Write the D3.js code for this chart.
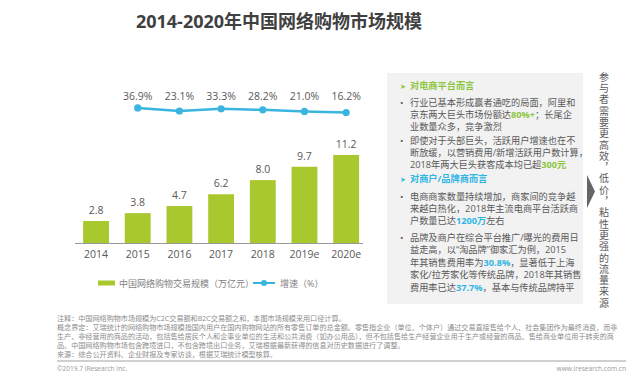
<!DOCTYPE html>
<html>
<head>
<meta charset="utf-8">
<script src="https://cdn.jsdelivr.net/npm/d3@7"></script>
<style>
  body { margin: 0; background: #fff; }
  svg { display: block; font-family: "Open Sans", "Noto Sans CJK SC", sans-serif; }
</style>
</head>
<body>
<div id="chart"></div>
<script>
// data
var years = ["2014", "2015", "2016", "2017", "2018", "2019e", "2020e"];
var scale = [2.8, 3.8, 4.7, 6.2, 8.0, 9.7, 11.2];
var growthYears = ["2015", "2016", "2017", "2018", "2019e", "2020e"];
var growth = [36.9, 23.1, 33.3, 28.2, 21.0, 16.2];
var legendLabels = ["中国网络购物交易规模（万亿元）", "增速（%）"];

var green = "#a8c82e", blue = "#3ab5e0", txt = "#595959";

var W = 640, H = 376;
var svg = d3.select("#chart").append("svg")
    .attr("width", W)
    .attr("height", H);

// title
svg.append("text")
    .attr("x", 279).attr("y", 28)
    .attr("text-anchor", "middle")
    .style("font-size", "18px").style("font-weight", "bold")
    .style("fill", "#404040")
    .text("2014-2020年中国网络购物市场规模");

// scales
var x = d3.scaleBand()
    .domain(years)
    .range([75.2, 367])
    .paddingInner(0.38)
    .paddingOuter(0.19);

var baseline = 243;
var y = d3.scaleLinear()
    .domain([0, 12])
    .range([baseline, baseline - 12 * 7.86]);

var yg = d3.scaleLinear()
    .domain([0, 40])
    .range([116, 107.3]);

// bars
svg.append("g")
  .selectAll("rect")
  .data(scale)
  .enter()
  .append("rect")
    .attr("x", function (d, i) { return x(years[i]); })
    .attr("y", function (d) { return y(d); })
    .attr("width", x.bandwidth())
    .attr("height", function (d) { return baseline - y(d); })
    .style("fill", green);

svg.append("g")
  .selectAll("text")
  .data(scale)
  .enter()
  .append("text")
    .attr("x", function (d, i) { return x(years[i]) + x.bandwidth() / 2; })
    .attr("y", function (d) { return y(d) - 7; })
    .attr("text-anchor", "middle")
    .style("font-size", "10.5px").style("fill", txt)
    .text(function (d) { return d.toFixed(1); });

// x axis
var xAxis = svg.append("g")
    .attr("transform", "translate(0," + baseline + ")")
    .call(d3.axisBottom(x).tickSize(0).tickPadding(8));
xAxis.select(".domain").attr("stroke", "#999").attr("stroke-width", 1.2)
    .attr("d", "M75,0.5H363");
xAxis.selectAll("text")
    .style("font-size", "10.5px").style("fill", txt)
    .style("font-family", "\"Open Sans\", sans-serif");

// growth line
var line = d3.line()
    .x(function (d, i) { return x(growthYears[i]) + x.bandwidth() / 2; })
    .y(function (d) { return yg(d); });

svg.append("path")
    .datum(growth)
    .attr("d", line)
    .attr("fill", "none")
    .attr("stroke", blue)
    .attr("stroke-width", 2.5);

svg.append("g")
  .selectAll("circle")
  .data(growth)
  .enter()
  .append("circle")
    .attr("cx", function (d, i) { return x(growthYears[i]) + x.bandwidth() / 2; })
    .attr("cy", function (d) { return yg(d); })
    .attr("r", 3.6)
    .style("fill", blue);

svg.append("g")
  .selectAll("text")
  .data(growth)
  .enter()
  .append("text")
    .attr("x", function (d, i) { return x(growthYears[i]) + x.bandwidth() / 2; })
    .attr("y", 100)
    .attr("text-anchor", "middle")
    .style("font-size", "10.5px").style("fill", txt)
    .text(function (d) { return d.toFixed(1) + "%"; });

// legend
var lg = svg.append("g").style("font-size", "9px").style("fill", "#7f7f7f");
lg.append("rect").attr("x", 98).attr("y", 280.5).attr("width", 17).attr("height", 5).style("fill", green);
lg.append("text").attr("x", 119).attr("y", 286.5).text(legendLabels[0]);
lg.append("line").attr("x1", 253).attr("x2", 275).attr("y1", 283).attr("y2", 283)
    .attr("stroke", blue).attr("stroke-width", 2);
lg.append("circle").attr("cx", 264).attr("cy", 283).attr("r", 3).style("fill", blue);
lg.append("text").attr("x", 280).attr("y", 286.5).text(legendLabels[1]);

// right panel
svg.append("rect")
    .attr("x", 387).attr("y", 73).attr("width", 196).attr("height", 231)
    .style("fill", "#f2f2f2");

var panel = [
  { y: 89, head: true, c: "#8cc63f", seg: [["对电商平台而言"]] },
  { y: 106, bullet: true, seg: [["行业已基本形成赢者通吃的局面，阿里和"]] },
  { y: 118, seg: [["京东两大巨头市场份额达"], ["80%+", "#8cc63f"], ["；长尾企"]] },
  { y: 130, seg: [["业数量众多，竞争激烈"]] },
  { y: 144, bullet: true, seg: [["即使对于头部巨头，活跃用户增速也在不"]] },
  { y: 156, seg: [["断放缓，以营销费用/新增活跃用户数计算，"]] },
  { y: 168, seg: [["2018年两大巨头获客成本均已超"], ["300元", "#8cc63f"]] },
  { y: 182, head: true, c: "#2fb6e4", seg: [["对商户/品牌商而言"]] },
  { y: 200, bullet: true, seg: [["电商商家数量持续增加，商家间的竞争越"]] },
  { y: 212, seg: [["来越白热化，2018年主流电商平台活跃商"]] },
  { y: 224, seg: [["户数量已达"], ["1200万", "#2fb6e4"], ["左右"]] },
  { y: 241, bullet: true, seg: [["品牌及商户在综合平台推广/曝光的费用日"]] },
  { y: 253, seg: [["益走高，以“淘品牌”御家汇为例，2015"]] },
  { y: 266, seg: [["年其销售费用率为"], ["30.8%", "#2fb6e4"], ["，显著低于上海"]] },
  { y: 278, seg: [["家化/拉芳家化等传统品牌，2018年其销售"]] },
  { y: 291, seg: [["费用率已达"], ["37.7%", "#2fb6e4"], ["，基本与传统品牌持平"]] }
];

var pg = svg.append("g").style("font-size", "9.2px").style("fill", txt);
panel.forEach(function (p) {
  if (p.head) {
    pg.append("text").attr("x", 400).attr("y", p.y)
      .style("font-size", "7px").style("fill", p.c).text("➤");
  }
  if (p.bullet) {
    pg.append("text").attr("x", 400).attr("y", p.y).text("•");
  }
  var t = pg.append("text").attr("x", 410).attr("y", p.y);
  if (p.head) t.style("fill", p.c).style("font-weight", "bold");
  p.seg.forEach(function (s) {
    var ts = t.append("tspan").text(s[0]);
    if (s[1]) ts.style("fill", s[1]).style("font-weight", "bold");
  });
});

// arrow
svg.append("path")
    .attr("d", "M587,175L595,191.5L587,208Z")
    .style("fill", "#666");

// vertical text, one text element written top to bottom
svg.append("text")
    .attr("x", 604).attr("y", 72)
    .style("writing-mode", "vertical-rl")
    .style("font-family", "\"Noto Sans CJK SC\", sans-serif")
    .style("font-size", "10px")
    .style("letter-spacing", "1.3px")
    .style("fill", txt)
    .text("参与者需要更高效，低价，粘性更强的流量来源");

// notes
var notes = [
  "注释：中国网络购物市场规模为C2C交易额和B2C交易额之和，本图市场规模采用口径计算。",
  "概念界定：艾瑞统计的网络购物市场规模指国内用户在国内购物网站的所有零售订单的总金额。零售指企业（单位、个体户）通过交易直接售给个人、社会集团作为最终消费，而非",
  "生产、非经营用的商品的活动，包括售给居民个人和企事业单位的生活和公共消费（如办公用品），但不包括售给生产经营企业用于生产或经营的商品、售给商业单位用于转卖的商",
  "品。中国网络购物市场包含跨境进口，不包含跨境出口业务，艾瑞根据最新获得的信息对历史数据进行了调整。",
  "来源：综合公开资料、企业财报及专家访谈，根据艾瑞统计模型核算。"
];
var ng = svg.append("g").style("font-size", "7.1px").style("fill", "#8c8c8c");
notes.forEach(function (n, i) {
  ng.append("text").attr("x", 57).attr("y", 321 + i * 9).text(n);
});

svg.append("line")
    .attr("x1", 57).attr("x2", 626).attr("y1", 361).attr("y2", 361)
    .attr("stroke", "#c0c0c0").attr("stroke-width", 1.5);

svg.append("text").attr("x", 57).attr("y", 371)
    .style("font-size", "6.6px").style("fill", "#9a9a9a")
    .text("©2019.7 iResearch Inc.");
svg.append("text").attr("x", 626).attr("y", 371)
    .attr("text-anchor", "end")
    .style("font-size", "6.6px").style("fill", "#9a9a9a")
    .text("www.iresearch.com.cn");
</script>
</body>
</html>
